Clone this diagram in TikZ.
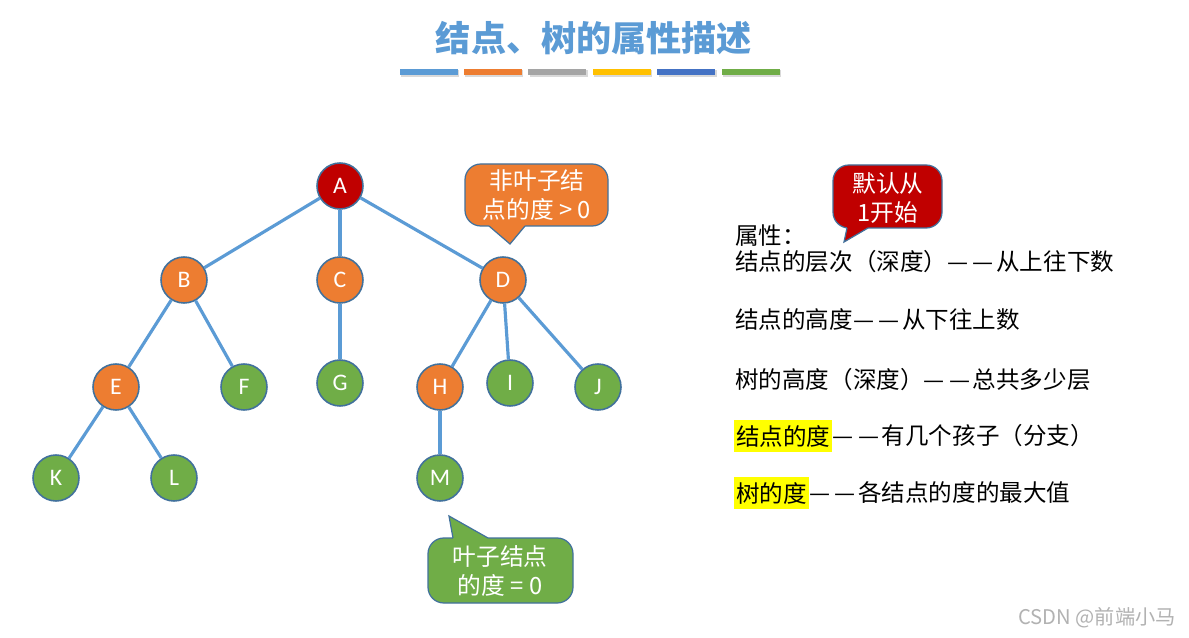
\documentclass[tikz,border=0pt]{standalone}
\usepackage{fontspec}
\setmainfont{Noto Sans CJK SC}
\newfontfamily\letterfont{Carlito}
\usepackage{tikz}

\definecolor{treeblue}{HTML}{5B9BD5}
\definecolor{rootred}{HTML}{C00000}
\definecolor{innerorange}{HTML}{ED7D31}
\definecolor{leafgreen}{HTML}{70AD47}
\definecolor{rimblue}{HTML}{41719C}
\definecolor{bargray}{HTML}{A5A5A5}
\definecolor{baryellow}{HTML}{FFC000}
\definecolor{bardarkblue}{HTML}{4472C4}
\definecolor{marker}{HTML}{FFFF00}

\newcommand{\twodash}{—\hspace{0.2em}—\hspace{0.1em}}

\tikzset{
  treenode/.style={circle, draw=rimblue, line width=0.9pt, minimum size=0.92cm, inner sep=0pt, text=white, font=\letterfont\fontsize{13.5}{13.5}\selectfont},
  rootnode/.style={treenode, fill=rootred},
  innernode/.style={treenode, fill=innerorange},
  leafnode/.style={treenode, fill=leafgreen},
  branch/.style={treeblue, line width=1.8pt},
  rim/.style={draw=rimblue, line width=0.7pt},
  note/.style={text=white, align=center, inner sep=0pt, font=\fontsize{13.5}{16}\selectfont},
  attr/.style={anchor=west, inner sep=0pt, font=\fontsize{13.4}{16}\selectfont},
  bar/.style={minimum width=1.16cm, minimum height=0.12cm, inner sep=0pt},
}

\begin{document}
\begin{tikzpicture}[x=0.02cm, y=-0.02cm]
				\useasboundingbox[fill=white] (0,0) rectangle (1189,638);
				% title
				\node[text=treeblue, font=\fontsize{20}{20}\selectfont\bfseries] (title) at (594,38) {结点、树的属性描述};
				\foreach \c [count=\i from 0] in {treeblue, innerorange, bargray, baryellow, bardarkblue, leafgreen} {
					\fill[black!15] (401+\i*64.4,70) rectangle (459+\i*64.4,77);
					\node[bar, fill=\c] (bar\i) at (428.5+\i*64.4,72) {};
				}
				% tree
				\node[rootnode] (a) at (340,186) {A};
				\node[innernode] (b) at (184,280) {B};
				\node[innernode] (c) at (340,280) {C};
				\node[innernode] (d) at (503,280) {D};
				\node[innernode] (e) at (116,387) {E};
				\node[leafnode] (f) at (244,387) {F};
				\node[leafnode] (g) at (340,383) {G};
				\node[innernode] (h) at (440,387) {H};
				\node[leafnode] (i) at (510,383) {I};
				\node[leafnode] (j) at (598,387) {J};
				\node[leafnode] (k) at (56,478) {K};
				\node[leafnode] (l) at (174,478) {L};
				\node[leafnode] (m) at (440,478) {M};
				\draw[branch] (a) -- (b);
				\draw[branch] (a) -- (c);
				\draw[branch] (a) -- (d);
				\draw[branch] (b) -- (e);
				\draw[branch] (b) -- (f);
				\draw[branch] (c) -- (g);
				\draw[branch] (d) -- (h);
				\draw[branch] (d) -- (i);
				\draw[branch] (d) -- (j);
				\draw[branch] (e) -- (k);
				\draw[branch] (e) -- (l);
				\draw[branch] (h) -- (m);
				% callouts
				\filldraw[rim, fill=innerorange, rounded corners=9] (465,164) rectangle (608,226);
				\fill[innerorange] (489,226) -- (510,244) -- (525,226) -- (525,222) -- (489,222) -- cycle;
				\draw[rim] (489,226) -- (510,244) -- (525,226);
				\node[note] (inner) at (537,195) {非叶子结\\点的度 > 0};
				\filldraw[rim, fill=leafgreen, rounded corners=9] (428,538) rectangle (573,603);
				\fill[leafgreen] (453,538) -- (449,516) -- (488,538) -- (488,542) -- (453,542) -- cycle;
				\draw[rim] (453,538) -- (449,516) -- (488,538);
				\node[note] (leaf) at (500,571) {叶子结点\\的度 = 0};
				\filldraw[rim, fill=rootred, rounded corners=9] (833,165) rectangle (942,228);
				\fill[rootred] (847,228) -- (844,242) -- (868,228) -- (868,224) -- (847,224) -- cycle;
				\draw[rim] (847,228) -- (844,242) -- (868,228);
				\node[note] (start) at (888,198) {默认从\\1开始};
				% attributes
				\node[attr] (p0) at (735,236) {属性：};
				\node[attr] (p1) at (735,262) {结点的层次（深度）\twodash 从上往下数};
				\node[attr] (p2) at (735,320) {结点的高度\twodash 从下往上数};
				\node[attr] (p3) at (735,380) {树的高度（深度）\twodash 总共多少层};
				\node[attr, fill=marker, inner xsep=1pt, inner ysep=3pt] (p4) at (734,436) {结点的度};
				\node[attr] (p4r) at (p4.east) {\twodash 有几个孩子（分支）};
				\node[attr, fill=marker, inner xsep=1pt, inner ysep=3pt] (p5) at (734,493) {树的度};
				\node[attr] (p5r) at (p5.east) {\twodash 各结点的度的最大值};
				% watermark
				\node[text=black!30, font=\fontsize{11.5}{12}\selectfont] (mark) at (1097,618) {CSDN @前端小马};
			\end{tikzpicture}
\end{document}
